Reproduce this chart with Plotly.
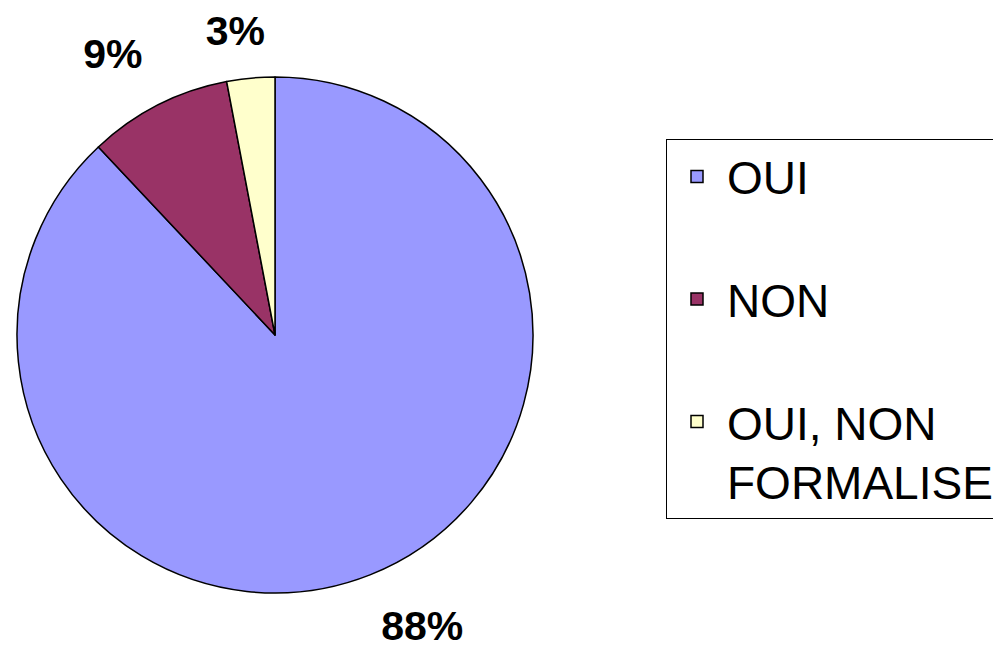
import plotly.graph_objects as go

# ---- data ----
categories = ["OUI", "NON", "OUI, NON FORMALISE"]
legend_labels = ["OUI<br> ", "NON<br> ", "OUI, NON<br>FORMALISE"]
values = [88, 9, 3]
colors = ["#9999FF", "#993366", "#FFFFCC"]

# ---- layout constants (reference-pixel space) ----
W, H = 1001, 650
OFF = 8                      # browser body margin
FW, FH = W - OFF, H - OFF    # figure size that fits the window
FONT = "Arial, Liberation Sans, sans-serif"

PIE_CX, PIE_CY, PIE_R = 275, 335, 258
# per-label placement circles (centre x, centre y, radius) for the outside percentage labels
label_circles = [(274, 364, 260), (272, 304, 260), (301, 313, 260)]


def domain(cx, cy, r):
    """Convert a circle in reference pixels to a plotly domain."""
    x0 = (cx - r - OFF) / FW
    x1 = (cx + r - OFF) / FW
    y0 = (FH - (cy + r - OFF)) / FH
    y1 = (FH - (cy - r - OFF)) / FH
    return dict(x=[x0, x1], y=[y0, y1])


fig = go.Figure()

# main pie (slices + legend)
fig.add_trace(go.Pie(
    labels=legend_labels,
    values=values,
    sort=False,
    direction="clockwise",
    rotation=0,
    marker=dict(colors=colors, line=dict(color="black", width=1.5)),
    textinfo="none",
    hovertext=categories,
    hovertemplate="%{hovertext}: %{percent:.0%}<extra></extra>",
    domain=domain(PIE_CX, PIE_CY, PIE_R),
    showlegend=True,
))

# transparent companion pies that only carry the percentage labels
for i, (cx, cy, r) in enumerate(label_circles):
    positions = ["outside" if j == i else "none" for j in range(len(values))]
    fig.add_trace(go.Pie(
        labels=legend_labels,
        values=values,
        sort=False,
        direction="clockwise",
        rotation=0,
        marker=dict(colors=["rgba(0,0,0,0)"] * len(values), line=dict(width=0)),
        textposition=positions,
        texttemplate="%{percent:.0%}",
        textfont=dict(family=FONT, size=41, color="black", weight="bold"),
        hoverinfo="skip",
        domain=domain(cx, cy, r),
        showlegend=False,
    ))

fig.update_layout(
    width=FW,
    height=FH,
    margin=dict(l=0, r=0, t=0, b=0, autoexpand=False),
    paper_bgcolor="white",
    plot_bgcolor="white",
    font=dict(family=FONT, color="black"),
    legend=dict(
        x=(666 - OFF) / FW,
        y=1 - (139 - OFF) / FH,
        xanchor="left",
        yanchor="top",
        bgcolor="white",
        bordercolor="black",
        borderwidth=1,
        font=dict(family=FONT, size=46, color="black"),
        itemwidth=50,
        valign="top",
        traceorder="normal",
    ),
)

fig.write_html("out.html")
